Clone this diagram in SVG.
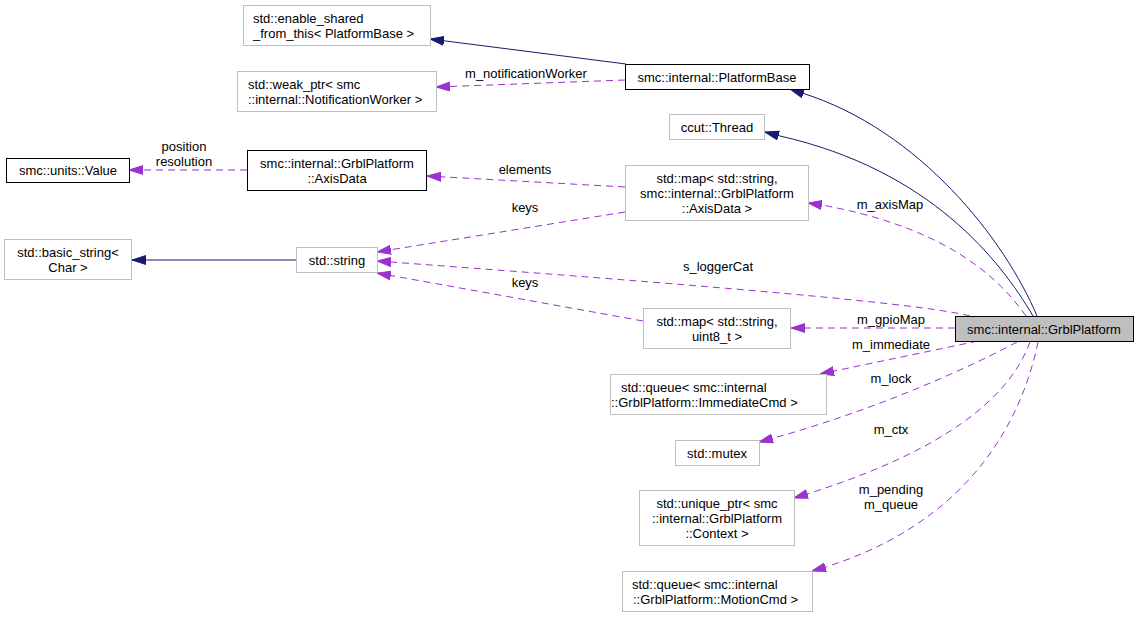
<svg xmlns="http://www.w3.org/2000/svg" width="1139" height="617" viewBox="0 0 1139 617">
<defs>
<style>
text{font-family:"Liberation Sans",Arial,Helvetica,sans-serif;font-size:13px;fill:#000}
.c{text-anchor:middle}
.s{text-anchor:start}
.g{fill:#fff;stroke:#bfbfbf;stroke-width:1}
.k{fill:#fff;stroke:#000;stroke-width:1}
.m{fill:#bfbfbf;stroke:#000;stroke-width:1}
.inh{fill:none;stroke:#191970;stroke-width:1;marker-end:url(#ab)}
.use{fill:none;stroke:#9a32cd;stroke-width:1;stroke-dasharray:7,5;marker-end:url(#ap)}
</style>
<marker id="ab" viewBox="0 0 14 10" refX="14" refY="5" markerWidth="14" markerHeight="10" markerUnits="userSpaceOnUse" orient="auto">
<path d="M0,0.5 L14,5 L0,9.5 z" fill="#191970" stroke="#191970"/>
</marker>
<marker id="ap" viewBox="0 0 14 10" refX="14" refY="5" markerWidth="14" markerHeight="10" markerUnits="userSpaceOnUse" orient="auto">
<path d="M0,0.5 L14,5 L0,9.5 z" fill="#9a32cd" stroke="#9a32cd"/>
</marker>
</defs>
<rect x="0" y="0" width="1139" height="617" fill="#fff"/>

<g id="edges">
<path class="inh" d="M626,64 L430,39"/>
<path class="use" d="M625,80 L436,87"/>
<text class="c" x="526" y="78">m_notificationWorker</text>
<path class="inh" d="M1037,316 C1005,240 920,130 802,93 L790,89"/>
<path class="inh" d="M1033,316 C1000,260 930,170 780,136 L765,132"/>
<path class="use" d="M1026,316 C990,265 930,225 822,205 L808,203"/>
<text class="c" x="890" y="209">m_axisMap</text>
<path class="use" d="M625,187 L427,176"/>
<text class="c" x="525" y="174">elements</text>
<path class="use" d="M247,170 L129,170"/>
<text class="c" x="184" y="151">position</text>
<text class="c" x="184" y="166">resolution</text>
<path class="use" d="M625,212 L377,252"/>
<text class="c" x="525" y="212">keys</text>
<path class="inh" d="M296,260 L132,260"/>
<path class="use" d="M970,316 C920,303 700,285 377,261"/>
<text class="c" x="718" y="271">s_loggerCat</text>
<path class="use" d="M643,321 L377,273"/>
<text class="c" x="525" y="287">keys</text>
<path class="use" d="M955,328 L791,328"/>
<text class="c" x="891" y="324">m_gpioMap</text>
<path class="use" d="M978,341 L820,374"/>
<text class="c" x="891" y="349">m_immediate</text>
<path class="use" d="M1017,342 C980,362 880,410 759,442"/>
<text class="c" x="891" y="383">m_lock</text>
<path class="use" d="M1030,342 C1005,410 920,460 794,498"/>
<text class="c" x="891" y="434">m_ctx</text>
<path class="use" d="M1038,342 C1020,430 960,530 812,571"/>
<text class="c" x="891" y="494">m_pending</text>
<text class="c" x="891" y="509">m_queue</text>
</g>

<g id="enable_shared">
<rect class="g" x="243.5" y="5.5" width="187" height="40"/>
<text class="s" x="253" y="22.5">std::enable_shared</text>
<text class="s" x="253" y="37.5">_from_this&lt; PlatformBase &gt;</text>
</g>
<g id="weak_ptr">
<rect class="g" x="237.5" y="71.5" width="199" height="40"/>
<text class="s" x="248" y="88.5">std::weak_ptr&lt; smc</text>
<text class="s" x="248" y="103.5">::internal::NotificationWorker &gt;</text>
</g>
<g id="PlatformBase">
<rect class="k" x="625.5" y="64.5" width="184" height="25"/>
<text class="c" x="717" y="81.5">smc::internal::PlatformBase</text>
</g>
<g id="Thread">
<rect class="g" x="669.5" y="114.5" width="95" height="25"/>
<text class="c" x="717" y="131.5">ccut::Thread</text>
</g>
<g id="Value">
<rect class="k" x="6.5" y="158.5" width="123" height="24"/>
<text class="c" x="68" y="175">smc::units::Value</text>
</g>
<g id="AxisData">
<rect class="k" x="247.5" y="150.5" width="179" height="40"/>
<text class="c" x="337" y="167.5">smc::internal::GrblPlatform</text>
<text class="c" x="337" y="182.5">::AxisData</text>
</g>
<g id="map_axis">
<rect class="g" x="625.5" y="165.5" width="183" height="55"/>
<text class="c" x="717" y="182.5">std::map&lt; std::string,</text>
<text class="c" x="717" y="197.5">smc::internal::GrblPlatform</text>
<text class="c" x="717" y="212.5">::AxisData &gt;</text>
</g>
<g id="basic_string">
<rect class="g" x="4.5" y="239.5" width="127" height="40"/>
<text class="c" x="68" y="256.5">std::basic_string&lt;</text>
<text class="c" x="68" y="271.5">Char &gt;</text>
</g>
<g id="string">
<rect class="g" x="296.5" y="247.5" width="81" height="25"/>
<text class="c" x="337" y="264.5">std::string</text>
</g>
<g id="map_gpio">
<rect class="g" x="643.5" y="308.5" width="147" height="40"/>
<text class="c" x="717" y="325.5">std::map&lt; std::string,</text>
<text class="c" x="717" y="340.5">uint8_t &gt;</text>
</g>
<g id="GrblPlatform">
<rect class="m" x="955.5" y="316.5" width="178" height="25"/>
<text class="c" x="1044" y="333.5">smc::internal::GrblPlatform</text>
</g>
<g id="queue_immediate">
<rect class="g" x="610.5" y="374.5" width="216" height="40"/>
<text class="s" x="621" y="391.5">std::queue&lt; smc::internal</text>
<text class="s" x="611" y="406.5">::GrblPlatform::ImmediateCmd &gt;</text>
</g>
<g id="mutex">
<rect class="g" x="675.5" y="440.5" width="84" height="25"/>
<text class="c" x="717" y="457.5">std::mutex</text>
</g>
<g id="unique_ptr">
<rect class="g" x="639.5" y="490.5" width="155" height="55"/>
<text class="c" x="717" y="507.5">std::unique_ptr&lt; smc</text>
<text class="c" x="717" y="522.5">::internal::GrblPlatform</text>
<text class="c" x="717" y="537.5">::Context &gt;</text>
</g>
<g id="queue_motion">
<rect class="g" x="622.5" y="571.5" width="190" height="40"/>
<text class="s" x="632" y="588.5">std::queue&lt; smc::internal</text>
<text class="s" x="633" y="603.5">::GrblPlatform::MotionCmd &gt;</text>
</g>
</svg>
